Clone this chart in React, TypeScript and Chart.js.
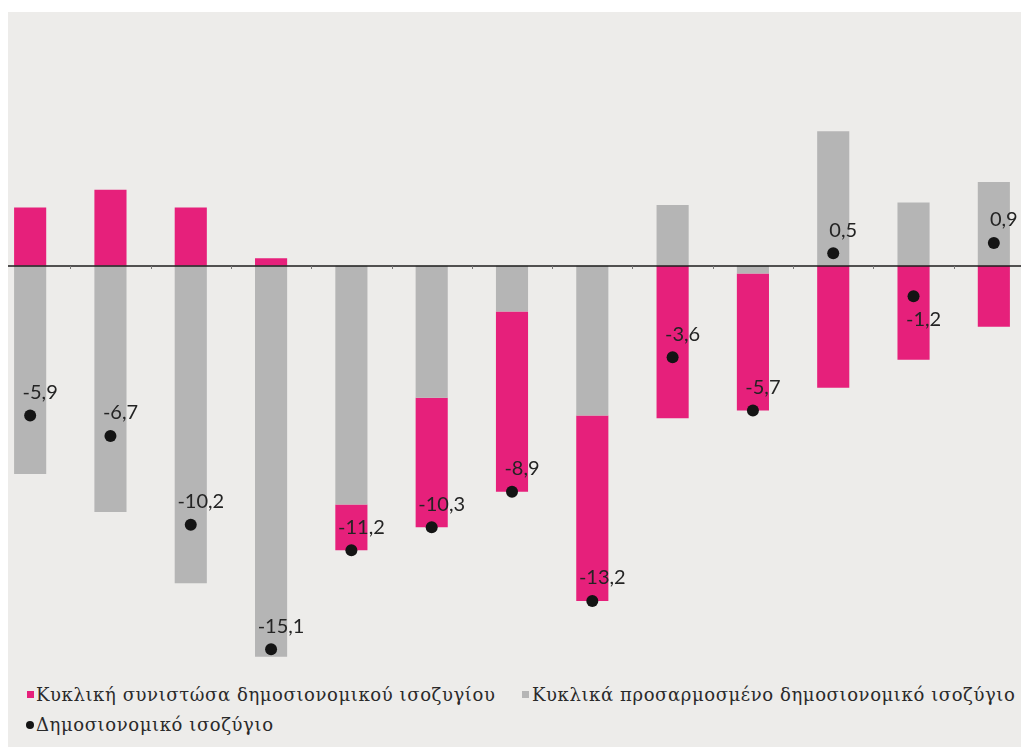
import React, { useEffect, useRef } from 'react';
import { Chart, registerables } from 'chart.js';

Chart.register(...registerables);

// Categories (axis labels are not shown in the reference)
const categories = ['2006', '2007', '2008', '2009', '2010', '2011', '2012', '2013', '2014', '2015', '2016', '2017', '2018'];

// Κυκλική συνιστώσα δημοσιονομικού ισοζυγίου
const cyclicalComponent = [2.3, 3.0, 2.3, 0.3, -1.8, -5.1, -7.1, -7.3, -6.0, -5.4, -4.8, -3.7, -2.4];
// Κυκλικά προσαρμοσμένο δημοσιονομικό ισοζύγιο
const cyclicallyAdjusted = [-8.2, -9.7, -12.5, -15.4, -9.4, -5.2, -1.8, -5.9, 2.4, -0.3, 5.3, 2.5, 3.3];
// Δημοσιονομικό ισοζύγιο
const fiscalBalance = [-5.9, -6.7, -10.2, -15.1, -11.2, -10.3, -8.9, -13.2, -3.6, -5.7, 0.5, -1.2, 0.9];

const seriesNames = [
  'Κυκλική συνιστώσα δημοσιονομικού ισοζυγίου',
  'Κυκλικά προσαρμοσμένο δημοσιονομικό ισοζύγιο',
  'Δημοσιονομικό ισοζύγιο',
];

// indices whose value label sits under the dot
const labelsBelow = [11];

const PINK = '#E6207B';
const GRAY = '#B5B5B5';
const BG = '#EDECEA';
const DOT = '#141414';

export default function App() {
  const canvasRef = useRef<HTMLCanvasElement>(null);

  useEffect(() => {
    document.body.style.margin = '0';
    const canvas = canvasRef.current;
    if (!canvas) return;

    const zeroLinePlugin = {
      id: 'zeroLine',
      afterDatasetsDraw(chart: any) {
        const { ctx, chartArea, scales } = chart;
        const y0 = Math.round(scales.y.getPixelForValue(0));
        ctx.save();
        ctx.strokeStyle = '#1c1c1c';
        ctx.lineWidth = 1.5;
        ctx.beginPath();
        ctx.moveTo(chartArea.left, y0);
        ctx.lineTo(chartArea.right, y0);
        ctx.stroke();
        ctx.strokeStyle = '#777';
        ctx.lineWidth = 1;
        for (let i = 0; i < categories.length - 1; i++) {
          const x = Math.round((scales.x.getPixelForValue(i) + scales.x.getPixelForValue(i + 1)) / 2) + 0.5;
          ctx.beginPath();
          ctx.moveTo(x, y0);
          ctx.lineTo(x, y0 + 3);
          ctx.stroke();
        }
        ctx.restore();
      },
    };

    const valueLabelPlugin = {
      id: 'valueLabels',
      afterDraw(chart: any) {
        const { ctx } = chart;
        const meta = chart.getDatasetMeta(2);
        ctx.save();
        ctx.font = '20px Lato, "Open Sans", sans-serif';
        ctx.fillStyle = '#242424';
        ctx.textAlign = 'center';
        ctx.textBaseline = 'middle';
        meta.data.forEach((pt: any, i: number) => {
          const txt = fiscalBalance[i].toFixed(1).replace('.', ',');
          const below = labelsBelow.includes(i);
          ctx.fillText(txt, pt.x + 10, pt.y + (below ? 23 : -23));
        });
        ctx.restore();
      },
    };

    const chart = new Chart(canvas, {
      type: 'bar',
      data: {
        labels: categories,
        datasets: [
          {
            label: seriesNames[1],
            data: cyclicallyAdjusted,
            backgroundColor: GRAY,
            borderWidth: 0,
            order: 1,
          },
          {
            label: seriesNames[0],
            data: cyclicalComponent,
            backgroundColor: PINK,
            borderWidth: 0,
            order: 1,
          },
          {
            type: 'line',
            label: seriesNames[2],
            data: fiscalBalance,
            showLine: false,
            pointRadius: 6,
            pointHoverRadius: 6,
            pointBackgroundColor: DOT,
            pointBorderWidth: 0,
            borderColor: DOT,
            backgroundColor: DOT,
            stack: 'balance',
            order: 0,
          } as any,
        ],
      },
      options: {
        animation: false,
        responsive: false,
        maintainAspectRatio: false,
        layout: { padding: 0, autoPadding: false },
        datasets: {
          bar: { categoryPercentage: 0.4, barPercentage: 1 },
        },
        plugins: {
          legend: { display: false },
          tooltip: { enabled: false },
        },
        scales: {
          x: { display: false, stacked: true },
          y: { display: false, stacked: true, min: -16, max: 10 },
        },
      },
      plugins: [zeroLinePlugin, valueLabelPlugin],
    });

    return () => chart.destroy();
  }, []);

  const legendText: React.CSSProperties = {
    position: 'absolute',
    fontFamily: '"DejaVu Serif", "Noto Serif", serif',
    fontSize: 18,
    letterSpacing: '0.6px',
    lineHeight: '20px',
    color: '#2a2a2a',
    whiteSpace: 'nowrap',
  };

  return (
    <div style={{ position: 'fixed', left: 0, top: 0, width: 1021, height: 747, background: '#fff', overflow: 'hidden' }}>
      <div style={{ position: 'absolute', left: 8, top: 12, right: 0, bottom: 0, background: BG }} />
      <div style={{ position: 'absolute', left: 8, top: 12, width: 1013, height: 660, overflow: 'hidden' }}>
        <canvas
          ref={canvasRef}
          width={1044}
          height={660}
          style={{ position: 'absolute', left: -18, top: 0, width: 1044, height: 660, display: 'block' }}
        />
      </div>
      <div style={{ position: 'absolute', left: 27, top: 691, width: 7, height: 7, background: PINK }} />
      <div style={{ ...legendText, left: 36, top: 685 }}>{seriesNames[0]}</div>
      <div style={{ position: 'absolute', left: 522, top: 691, width: 7, height: 7, background: GRAY }} />
      <div style={{ ...legendText, left: 532, top: 685 }}>{seriesNames[1]}</div>
      <div style={{ position: 'absolute', left: 26, top: 721, width: 8, height: 8, borderRadius: '50%', background: DOT }} />
      <div style={{ ...legendText, left: 36, top: 715 }}>{seriesNames[2]}</div>
    </div>
  );
}
